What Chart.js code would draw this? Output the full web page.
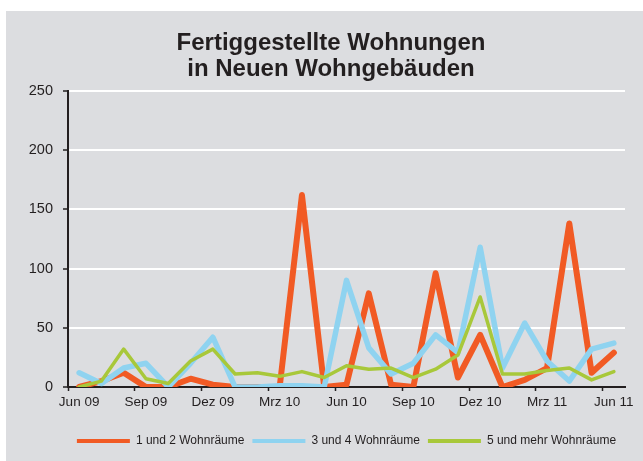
<!DOCTYPE html>
<html>
<head>
<meta charset="utf-8">
<script src="https://cdn.jsdelivr.net/npm/chart.js@4.4.1/dist/chart.umd.min.js"></script>
<style>
  html, body { margin: 0; padding: 0; background: #ffffff; }
  #wrap { width: 643px; height: 461px; position: relative; }
</style>
</head>
<body>
<div id="wrap"><canvas id="chart" width="643" height="461"></canvas></div>
<script>
// monthly values Jun 09 .. Jun 11
const months = ['Jun 09', 'Jul 09', 'Aug 09', 'Sep 09', 'Okt 09', 'Nov 09', 'Dez 09', 'Jan 10', 'Feb 10',
  'Mrz 10', 'Apr 10', 'Mai 10', 'Jun 10', 'Jul 10', 'Aug 10', 'Sep 10', 'Okt 10', 'Nov 10', 'Dez 10',
  'Jan 11', 'Feb 11', 'Mrz 11', 'Apr 11', 'Mai 11', 'Jun 11']
const raeume12 = [0, 5, 12, 0, 0, 7, 2, 0, 0, 0, 162, 0, 2, 79, 2, 0, 96, 8, 44, 0, 6, 16, 138, 12, 29]
const raeume34 = [12, 3, 16, 20, 0, 20, 42, 0, 0, 1, 1, 0, 90, 33, 11, 20, 44, 29, 118, 16, 54, 22, 5, 32, 37]
const raeume5 = [0, 5, 32, 7, 3, 22, 32, 11, 12, 9, 13, 8, 18, 15, 16, 8, 15, 27, 76, 11, 11, 14, 16, 6, 13]
const seriesNames = ['1 und 2 Wohnräume', '3 und 4 Wohnräume', '5 und mehr Wohnräume']
const yTicks = [0, 50, 100, 150, 200, 250]

const FONT = 'Liberation Sans, Arial, sans-serif'

const panelBg = {
  id: 'panelBg',
  beforeDraw: chart => {
    var ctx = chart.ctx
    ctx.save()
    ctx.fillStyle = '#dcdde0'
    ctx.fillRect(6, 11, chart.width - 6, chart.height - 11)
    ctx.restore()
  }
}

function lineSet(label, data, color, width, order) {
  return {
    label: label,
    data: data,
    borderColor: color,
    backgroundColor: color,
    borderWidth: width,
    pointRadius: 0,
    tension: 0,
    borderJoinStyle: 'round',
    borderCapStyle: 'round',
    order: order
  }
}

new Chart(document.getElementById('chart'), {
  type: 'line',
  plugins: [panelBg],
  data: {
    labels: months,
    datasets: [
      lineSet(seriesNames[0], raeume12, '#f15a24', 6, 2),
      lineSet(seriesNames[1], raeume34, '#8fd3f0', 5.5, 1),
      lineSet(seriesNames[2], raeume5, '#a8c83a', 3.5, 0)
    ]
  },
  options: {
    responsive: false,
    animation: false,
    layout: {
      padding: { left: 19, right: 0, top: 0, bottom: 4 }
    },
    plugins: {
      title: {
        display: true,
        text: ['Fertiggestellte Wohnungen', 'in Neuen Wohngebäuden'],
        color: '#231f20',
        font: { family: FONT, size: 24, weight: 'bold', lineHeight: 1.08 },
        padding: { top: 30, bottom: 9 }
      },
      legend: {
        position: 'bottom',
        fullSize: false,
        labels: {
          boxWidth: 53,
          boxHeight: 4,
          padding: 8,
          color: '#231f20',
          font: { family: FONT, size: 12 },
          sort: (a, b) => a.datasetIndex - b.datasetIndex,
          generateLabels: chart => {
            return Chart.defaults.plugins.legend.labels.generateLabels(chart).map(item => {
              item.lineWidth = 0
              return item
            })
          }
        }
      },
      tooltip: { enabled: false }
    },
    scales: {
      x: {
        offset: true,
        afterFit: scale => { scale.height = 40 },
        border: { color: '#231f20', width: 2 },
        grid: {
          offset: true,
          drawOnChartArea: false,
          tickLength: 4,
          tickWidth: 1.5,
          tickColor: ctx => (ctx.index !== undefined && ctx.index % 3 === 0) ? '#231f20' : 'rgba(0,0,0,0)'
        },
        ticks: {
          autoSkip: false,
          maxRotation: 0,
          padding: 3,
          color: '#231f20',
          font: { family: FONT, size: 13.5 },
          callback: function (value, index) {
            return index % 3 === 0 ? this.getLabelForValue(value) : ''
          }
        }
      },
      y: {
        min: 0,
        max: 250,
        afterFit: scale => { scale.width = 49 },
        afterBuildTicks: scale => { scale.ticks = yTicks.map(v => ({ value: v })) },
        border: { color: '#231f20', width: 2 },
        grid: {
          color: ctx => ctx.tick && ctx.tick.value === 0 ? 'rgba(0,0,0,0)' : '#ffffff',
          lineWidth: 2,
          tickLength: 5,
          tickColor: '#231f20',
          tickWidth: 1.5
        },
        ticks: {
          padding: 10,
          color: '#231f20',
          font: { family: FONT, size: 14.5 }
        }
      },
      // empty right-hand strip so the plot ends where the reference does
      yRight: {
        position: 'right',
        min: 0,
        max: 250,
        afterFit: scale => { scale.width = 18 },
        border: { display: false },
        grid: { display: false },
        ticks: { display: false }
      }
    }
  }
})
</script>
</body>
</html>
